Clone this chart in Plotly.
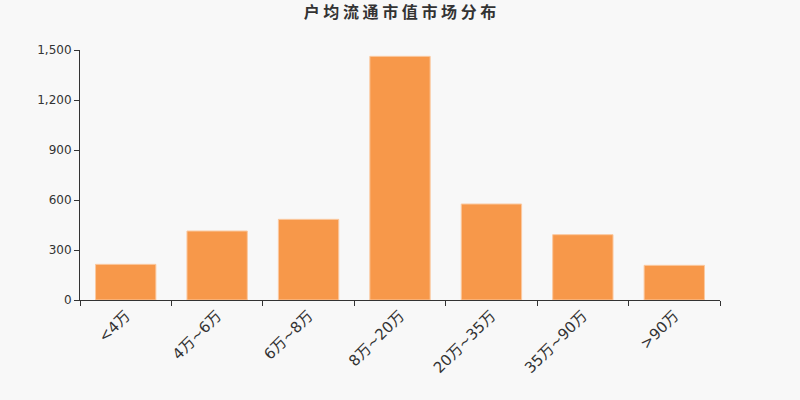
import plotly.graph_objects as go

categories = ["<4万", "4万~6万", "6万~8万", "8万~20万", "20万~35万", "35万~90万", ">90万"]
counts = [214, 414, 484, 1462, 576, 392, 208]
ytick_vals = [0, 300, 600, 900, 1200, 1500]
ytick_text = ["0", "300", "600", "900", "1,200", "1,500"]

bars = go.Bar(x=categories, y=counts,
              marker=dict(color="#f7984a", line=dict(color="#fbc9a0", width=1)))

fig = go.Figure(data=[bars])

fig.update_layout(
    width=800, height=400,
    paper_bgcolor="#f8f8f8", plot_bgcolor="#f8f8f8",
    margin=dict(l=80, r=80, t=50, b=100),
    bargap=0.34,
    showlegend=False,
    font=dict(family="Noto Sans CJK SC, DejaVu Sans", color="#333"),
    title=dict(text="<b>户 均 流 通 市 值 市 场 分 布</b>", x=0.5, xanchor="center",
               y=0.97, yanchor="middle", font=dict(size=16, color="#333")),
)

fig.update_xaxes(
    type="category", showline=True, linecolor="#333", linewidth=1,
    ticks="outside", tickson="boundaries", ticklen=5, tickcolor="#333",
    tickangle=-45, tickfont=dict(size=15, family="DejaVu Sans, Noto Sans CJK SC", color="#333"),
    showgrid=False, zeroline=False,
)
fig.update_yaxes(
    range=[0, 1500], tickvals=ytick_vals, ticktext=ytick_text,
    showline=True, linecolor="#333", linewidth=1,
    ticks="outside", ticklen=5, tickcolor="#333",
    tickfont=dict(size=12, family="DejaVu Sans", color="#333"),
    showgrid=False, zeroline=False,
)

# page body has a default 8px margin; drop it so the figure sits at 0,0
fig.write_html("out.html", config={"displayModeBar": False},
               post_script="document.body.style.margin='0';")
